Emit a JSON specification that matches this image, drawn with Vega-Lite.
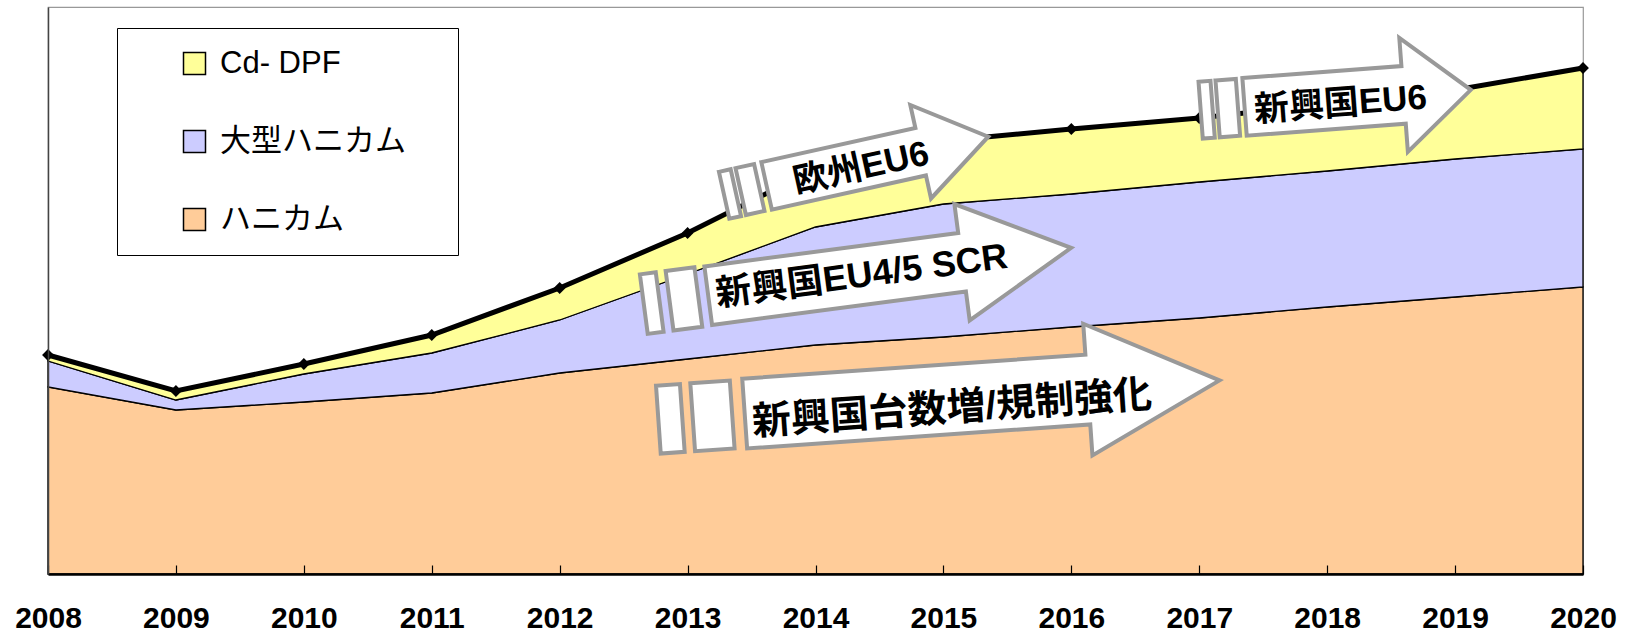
{
  "$schema": "https://vega.github.io/schema/vega-lite/v6.json",
  "width": 1535,
  "height": 567,
  "autosize": {"type": "none"},
  "padding": {"left": 48, "top": 7, "right": 50, "bottom": 60},
  "background": "white",
  "config": {
    "view": {"stroke": "#999999", "strokeWidth": 1.2},
    "font": "Liberation Sans"
  },
  "datasets": {
    "stack": [
      {"year": 2008, "series": "ハニカム", "value": 187, "rank": 1},
      {"year": 2008, "series": "大型ハニカム", "value": 26, "rank": 2},
      {"year": 2008, "series": "Cd- DPF", "value": 6, "rank": 3},
      {"year": 2009, "series": "ハニカム", "value": 164, "rank": 1},
      {"year": 2009, "series": "大型ハニカム", "value": 10, "rank": 2},
      {"year": 2009, "series": "Cd- DPF", "value": 9, "rank": 3},
      {"year": 2010, "series": "ハニカム", "value": 172, "rank": 1},
      {"year": 2010, "series": "大型ハニカム", "value": 28, "rank": 2},
      {"year": 2010, "series": "Cd- DPF", "value": 10, "rank": 3},
      {"year": 2011, "series": "ハニカム", "value": 181, "rank": 1},
      {"year": 2011, "series": "大型ハニカム", "value": 40, "rank": 2},
      {"year": 2011, "series": "Cd- DPF", "value": 18, "rank": 3},
      {"year": 2012, "series": "ハニカム", "value": 201, "rank": 1},
      {"year": 2012, "series": "大型ハニカム", "value": 53, "rank": 2},
      {"year": 2012, "series": "Cd- DPF", "value": 32, "rank": 3},
      {"year": 2013, "series": "ハニカム", "value": 215, "rank": 1},
      {"year": 2013, "series": "大型ハニカム", "value": 85, "rank": 2},
      {"year": 2013, "series": "Cd- DPF", "value": 41, "rank": 3},
      {"year": 2014, "series": "ハニカム", "value": 229, "rank": 1},
      {"year": 2014, "series": "大型ハニカム", "value": 118, "rank": 2},
      {"year": 2014, "series": "Cd- DPF", "value": 58, "rank": 3},
      {"year": 2015, "series": "ハニカム", "value": 237, "rank": 1},
      {"year": 2015, "series": "大型ハニカム", "value": 133, "rank": 2},
      {"year": 2015, "series": "Cd- DPF", "value": 63, "rank": 3},
      {"year": 2016, "series": "ハニカム", "value": 247, "rank": 1},
      {"year": 2016, "series": "大型ハニカム", "value": 133, "rank": 2},
      {"year": 2016, "series": "Cd- DPF", "value": 65, "rank": 3},
      {"year": 2017, "series": "ハニカム", "value": 256, "rank": 1},
      {"year": 2017, "series": "大型ハニカム", "value": 136, "rank": 2},
      {"year": 2017, "series": "Cd- DPF", "value": 64, "rank": 3},
      {"year": 2018, "series": "ハニカム", "value": 267, "rank": 1},
      {"year": 2018, "series": "大型ハニカム", "value": 136, "rank": 2},
      {"year": 2018, "series": "Cd- DPF", "value": 67, "rank": 3},
      {"year": 2019, "series": "ハニカム", "value": 277, "rank": 1},
      {"year": 2019, "series": "大型ハニカム", "value": 138, "rank": 2},
      {"year": 2019, "series": "Cd- DPF", "value": 69, "rank": 3},
      {"year": 2020, "series": "ハニカム", "value": 287, "rank": 1},
      {"year": 2020, "series": "大型ハニカム", "value": 138, "rank": 2},
      {"year": 2020, "series": "Cd- DPF", "value": 81, "rank": 3}
    ],
    "total": [
      {"year": 2008, "value": 219},
      {"year": 2009, "value": 183},
      {"year": 2010, "value": 210},
      {"year": 2011, "value": 239},
      {"year": 2012, "value": 286},
      {"year": 2013, "value": 341},
      {"year": 2014, "value": 405},
      {"year": 2015, "value": 433},
      {"year": 2016, "value": 445},
      {"year": 2017, "value": 456},
      {"year": 2018, "value": 470},
      {"year": 2019, "value": 484},
      {"year": 2020, "value": 506}
    ]
  },
  "layer": [
    {
      "data": {"name": "stack"},
      "mark": {"type": "area", "stroke": "black", "strokeWidth": 1.3, "opacity": 1},
      "encoding": {
        "x": {
          "field": "year", "type": "quantitative",
          "scale": {"domain": [2008, 2020], "nice": false, "zero": false},
          "axis": {
            "values": [2008, 2009, 2010, 2011, 2012, 2013, 2014, 2015, 2016, 2017, 2018, 2019, 2020],
            "format": "d", "title": null, "grid": false, "zindex": 1,
            "domainColor": "black", "domainWidth": 2.5,
            "tickColor": "black", "tickWidth": 1.2, "tickSize": -9,
            "labelFontSize": 30, "labelFontWeight": "bold", "labelColor": "black",
            "labelFont": "Liberation Sans", "labelPadding": 38,
            "labelFlush": false, "labelOverlap": false, "labelBound": false
          }
        },
        "y": {
          "field": "value", "type": "quantitative", "stack": "zero",
          "scale": {"domain": [0, 567], "nice": false, "zero": true},
          "axis": {"title": null, "labels": false, "ticks": false, "grid": false, "zindex": 1, "domainColor": "#444444", "domainWidth": 1.5}
        },
        "color": {
          "field": "series", "type": "nominal",
          "scale": {"domain": ["Cd- DPF", "大型ハニカム", "ハニカム"], "range": ["#FFFF99", "#CCCCFF", "#FFCC99"]},
          "legend": {
            "title": null, "orient": "none", "legendX": 69, "legendY": 21, "direction": "vertical",
            "strokeColor": "black", "fillColor": "white", "padding": 20,
            "symbolType": "square", "symbolSize": 484, "symbolStrokeColor": "black", "symbolStrokeWidth": 1.5,
            "symbolOpacity": 1, "symbolOffset": 42, "labelOffset": 10,
            "labelFontSize": 31, "labelFont": "Liberation Sans, Noto Sans CJK JP", "labelColor": "black",
            "rowPadding": 46, "labelLimit": 0, "labelExpr": "datum.label + ' ⠀'"
          }
        },
        "order": {"field": "rank", "type": "quantitative"}
      }
    },
    {
      "data": {"name": "total"},
      "mark": {"type": "line", "color": "black", "strokeWidth": 5,
               "point": {"shape": "diamond", "size": 140, "filled": true, "color": "black", "opacity": 1}},
      "encoding": {
        "x": {"field": "year", "type": "quantitative", "scale": {"domain": [2008, 2020], "nice": false, "zero": false}},
        "y": {"field": "value", "type": "quantitative", "scale": {"domain": [0, 567], "nice": false, "zero": true}}
      }
    },
    {
      "data": {"values": [{"year": 2014.965, "value": 174}]},
      "mark": {"type": "point", "filled": true, "fill": "white", "stroke": "#999999", "strokeWidth": 4, "opacity": 1,
               "size": 316406, "angle": -4,
               "shape": "M-1,-0.1209L-0.9147,-0.1209L-0.9147,0.1209L-1,0.1209Z M-0.8777,-0.1209L-0.7369,-0.1209L-0.7369,0.1209L-0.8777,0.1209Z M-0.6924,-0.1244L0.5307,-0.1244L0.5307,-0.2347L1,0L0.5307,0.2347L0.5307,0.1244L-0.6924,0.1244Z"},
      "encoding": {
        "x": {"field": "year", "type": "quantitative", "scale": {"domain": [2008, 2020], "nice": false, "zero": false}},
        "y": {"field": "value", "type": "quantitative", "scale": {"domain": [0, 567], "nice": false, "zero": true}}
      }
    },
    {
      "data": {"values": [{"year": 2014.328, "value": 298}]},
      "mark": {"type": "point", "filled": true, "fill": "white", "stroke": "#999999", "strokeWidth": 4, "opacity": 1,
               "size": 185761, "angle": -7.5,
               "shape": "M-1,-0.1392L-0.9258,-0.1392L-0.9258,0.1392L-1,0.1392Z M-0.8794,-0.1392L-0.7448,-0.1392L-0.7448,0.1392L-0.8794,0.1392Z M-0.6984,-0.1369L0.4896,-0.1369L0.4896,-0.2724L1,0L0.4896,0.2724L0.4896,0.1369L-0.6984,0.1369Z"},
      "encoding": {
        "x": {"field": "year", "type": "quantitative", "scale": {"domain": [2008, 2020], "nice": false, "zero": false}},
        "y": {"field": "value", "type": "quantitative", "scale": {"domain": [0, 567], "nice": false, "zero": true}}
      }
    },
    {
      "data": {"values": [{"year": 2014.318, "value": 408}]},
      "mark": {"type": "point", "filled": true, "fill": "white", "stroke": "#999999", "strokeWidth": 4, "opacity": 1,
               "size": 73170, "angle": -12.5,
               "shape": "M-1,-0.1775L-0.9113,-0.1775L-0.9113,0.1775L-1,0.1775Z M-0.8743,-0.1775L-0.7338,-0.1775L-0.7338,0.1775L-0.8743,0.1775Z M-0.6784,-0.1797L0.4884,-0.1797L0.4884,-0.3542L1,0L0.4884,0.3542L0.4884,0.1797L-0.6784,0.1797Z"},
      "encoding": {
        "x": {"field": "year", "type": "quantitative", "scale": {"domain": [2008, 2020], "nice": false, "zero": false}},
        "y": {"field": "value", "type": "quantitative", "scale": {"domain": [0, 567], "nice": false, "zero": true}}
      }
    },
    {
      "data": {"values": [{"year": 2018.067, "value": 474}]},
      "mark": {"type": "point", "filled": true, "fill": "white", "stroke": "#999999", "strokeWidth": 4, "opacity": 1,
               "size": 73387, "angle": -4.3,
               "shape": "M-1,-0.2104L-0.9114,-0.2104L-0.9114,0.2104L-1,0.2104Z M-0.8745,-0.2104L-0.7239,-0.2104L-0.7239,0.2104L-0.8745,0.2104Z M-0.6752,-0.2137L0.5024,-0.2137L0.5024,-0.4219L1,0L0.5024,0.4219L0.5024,0.2137L-0.6752,0.2137Z"},
      "encoding": {
        "x": {"field": "year", "type": "quantitative", "scale": {"domain": [2008, 2020], "nice": false, "zero": false}},
        "y": {"field": "value", "type": "quantitative", "scale": {"domain": [0, 567], "nice": false, "zero": true}}
      }
    },
    {
      "data": {"values": [{"year": 2015.067, "value": 165, "label": "新興国台数増/規制強化"}]},
      "mark": {"type": "text", "angle": -4, "fontSize": 39, "fontWeight": "bold", "font": "Liberation Sans, Noto Sans CJK JP", "color": "black", "align": "center", "baseline": "middle"},
      "encoding": {
        "x": {"field": "year", "type": "quantitative", "scale": {"domain": [2008, 2020], "nice": false, "zero": false}},
        "y": {"field": "value", "type": "quantitative", "scale": {"domain": [0, 567], "nice": false, "zero": true}},
        "text": {"field": "label"}
      }
    },
    {
      "data": {"values": [{"year": 2014.361, "value": 298, "label": "新興国EU4/5 SCR"}]},
      "mark": {"type": "text", "angle": -7.5, "fontSize": 36, "fontWeight": "bold", "font": "Liberation Sans, Noto Sans CJK JP", "color": "black", "align": "center", "baseline": "middle"},
      "encoding": {
        "x": {"field": "year", "type": "quantitative", "scale": {"domain": [2008, 2020], "nice": false, "zero": false}},
        "y": {"field": "value", "type": "quantitative", "scale": {"domain": [0, 567], "nice": false, "zero": true}},
        "text": {"field": "label"}
      }
    },
    {
      "data": {"values": [{"year": 2014.355, "value": 406, "label": "欧州EU6"}]},
      "mark": {"type": "text", "angle": -12.5, "fontSize": 35, "fontWeight": "bold", "font": "Liberation Sans, Noto Sans CJK JP", "color": "black", "align": "center", "baseline": "middle"},
      "encoding": {
        "x": {"field": "year", "type": "quantitative", "scale": {"domain": [2008, 2020], "nice": false, "zero": false}},
        "y": {"field": "value", "type": "quantitative", "scale": {"domain": [0, 567], "nice": false, "zero": true}},
        "text": {"field": "label"}
      }
    },
    {
      "data": {"values": [{"year": 2018.104, "value": 470, "label": "新興国EU6"}]},
      "mark": {"type": "text", "angle": -4.3, "fontSize": 35, "fontWeight": "bold", "font": "Liberation Sans, Noto Sans CJK JP", "color": "black", "align": "center", "baseline": "middle"},
      "encoding": {
        "x": {"field": "year", "type": "quantitative", "scale": {"domain": [2008, 2020], "nice": false, "zero": false}},
        "y": {"field": "value", "type": "quantitative", "scale": {"domain": [0, 567], "nice": false, "zero": true}},
        "text": {"field": "label"}
      }
    }
  ]
}
